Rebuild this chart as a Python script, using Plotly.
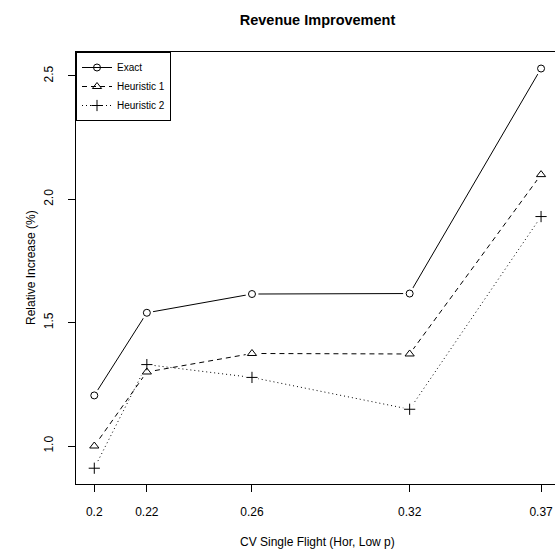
import plotly.graph_objects as go

cv = [0.2, 0.22, 0.26, 0.32, 0.37]
exact = [1.205, 1.54, 1.616, 1.618, 2.53]
heur1 = [1.00, 1.30, 1.375, 1.373, 2.10]
heur2 = [0.91, 1.33, 1.278, 1.149, 1.93]
x_ticks = [0.2, 0.22, 0.26, 0.32, 0.37]
x_tick_labels = ["0.2", "0.22", "0.26", "0.32", "0.37"]
y_ticks = [1.0, 1.5, 2.0, 2.5]
y_tick_labels = ["1.0", "1.5", "2.0", "2.5"]

FONT = "Liberation Sans, Arial, Helvetica, sans-serif"

series = [
    ("Exact", exact, "solid", "circle-open", 7),
    ("Heuristic 1", heur1, "5px,4px", "triangle-up-open", 8),
    ("Heuristic 2", heur2, "1px,3px", "cross-thin-open", 8),
]

fig = go.Figure()
# lines (with legend)
for name, vals, dash, sym, sz in series:
    fig.add_trace(go.Scatter(
        x=cv, y=vals, mode="lines+markers", name=name,
        line=dict(color="black", width=1, dash=dash),
        marker=dict(symbol=sym, size=sz, color="black", line=dict(width=1, color="black")),
    ))
# gaps around points (R type="b")
for name, vals, dash, sym, sz in series:
    fig.add_trace(go.Scatter(
        x=cv, y=vals, mode="markers", showlegend=False, hoverinfo="skip",
        marker=dict(symbol="circle", size=13, color="white", line=dict(width=0)),
    ))
# points on top
for name, vals, dash, sym, sz in series:
    fig.add_trace(go.Scatter(
        x=cv, y=vals, mode="markers", showlegend=False,
        marker=dict(symbol=sym, size=sz, color="black", line=dict(width=1, color="black")),
    ))

fig.update_layout(
    width=555, height=552,
    margin=dict(l=76, r=0, t=52, b=68),
    paper_bgcolor="white", plot_bgcolor="white",
    font=dict(family=FONT, size=12, color="black"),
    title=dict(text="<b>Revenue Improvement</b>", x=317.5/555, xanchor="center",
               y=1 - 20/552, yanchor="middle", font=dict(size=14.5, family=FONT)),
    showlegend=True,
    legend=dict(x=0, y=1, xanchor="left", yanchor="top", bgcolor="white",
                bordercolor="black", borderwidth=1, font=dict(size=10, family=FONT),
                tracegroupgap=0, itemwidth=30),
    xaxis=dict(range=[0.19304, 0.37531], tickvals=x_ticks, ticktext=x_tick_labels,
               showgrid=False, zeroline=False, showline=True, linecolor="black", linewidth=1,
               mirror=True, ticks="outside", ticklen=7, tickcolor="black", tickwidth=1,
               ticklabelstandoff=10, tickfont=dict(size=12)),
    yaxis=dict(range=[0.846, 2.597], tickvals=y_ticks, ticktext=y_tick_labels,
               showgrid=False, zeroline=False, showline=True, linecolor="black", linewidth=1,
               mirror=False, ticks="outside", ticklen=7, tickcolor="black", tickwidth=1,
               tickangle=-90, ticklabelstandoff=10, tickfont=dict(size=12)),
    annotations=[
        dict(text="CV Single Flight (Hor, Low p)", xref="paper", yref="paper",
             x=(317.5 - 76) / 479, y=-(541.5 - 484) / 432, xanchor="center", yanchor="middle",
             showarrow=False, font=dict(size=12)),
        dict(text="Relative Increase (%)", xref="paper", yref="paper",
             x=(31 - 76) / 479, y=0.5, xanchor="center", yanchor="middle",
             textangle=-90, showarrow=False, font=dict(size=12)),
    ],
)

fig.write_html("out.html", config={"displayModeBar": False},
               post_script="document.body.style.margin='0';document.body.style.padding='0';")
